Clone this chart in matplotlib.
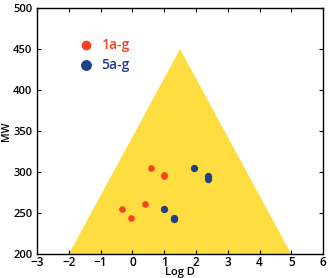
import matplotlib
matplotlib.use('Agg')
import matplotlib.pyplot as plt

# Triangle region (Log D, MW)
tri_x = [-2, 1.5, 5]
tri_y = [200, 450, 200]

# Compounds 1a-g
red_logd = [0.57, 1.0, -0.34, -0.04, 0.40, 1.0]
red_mw = [305, 296, 255, 244, 261, 295]

# Compounds 5a-g
blue_logd = [1.93, 2.39, 2.39, 1.0, 1.30, 1.30]
blue_mw = [305, 295, 292, 255, 243, 244]

plt.rcParams['font.family'] = ['Open Sans', 'DejaVu Sans']

fig = plt.figure(figsize=(3.28, 2.78), dpi=100)
ax = fig.add_axes([0.113, 0.086, 0.872, 0.885])

ax.fill(tri_x, tri_y, color='#FDDD40', lw=0, zorder=1)
ax.scatter(red_logd, red_mw, s=14, color='#F9401F', zorder=3, label='1a-g')
ax.scatter(blue_logd, blue_mw, s=18, color='#1F3E8C', zorder=3, label='5a-g')

ax.set_xlim(-3, 6)
ax.set_ylim(200, 500)
ax.set_xticks(range(-3, 7))
ax.set_yticks(range(200, 501, 50))
ax.set_xticklabels(['\u22123', '\u22122', '\u22121', '0', '1', '2', '3', '4', '5', '6'])
ax.tick_params(direction='in', top=True, right=True, labelsize=8.5, length=3)
ax.tick_params(axis='x', pad=1.5)
ax.tick_params(axis='y', pad=3.5, labelsize=8)
for lab in ax.get_xticklabels() + ax.get_yticklabels():
    lab.set_fontweight('semibold')
ax.set_xlabel('Log D', fontsize=8, fontweight='semibold', labelpad=-1.5)
ax.set_ylabel('MW', fontsize=7.5, fontweight='semibold')
ax.yaxis.set_label_coords(-0.088, 0.5)
for s in ax.spines.values():
    s.set_linewidth(1.0)

leg = ax.legend(loc='upper left', bbox_to_anchor=(0.08, 0.93), frameon=False,
                markerscale=1.6, handletextpad=0.1, labelspacing=0.45,
                prop={'size': 10, 'weight': 'semibold'}, labelcolor='markerfacecolor')

fig.savefig('out.png', dpi=100)
